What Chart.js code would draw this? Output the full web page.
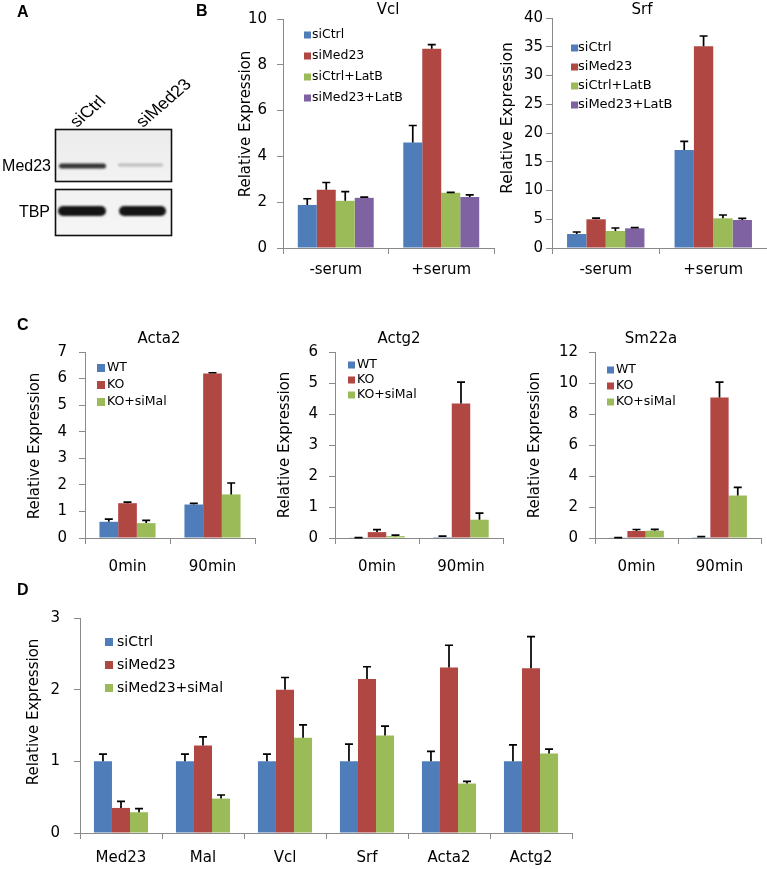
<!DOCTYPE html>
<html><head><meta charset="utf-8">
<script src="https://cdn.jsdelivr.net/npm/chart.js@4.4.1/dist/chart.umd.min.js"></script>
<style>
html,body{margin:0;padding:0;background:#fff;}
#wrap{position:relative;width:767px;height:869px;overflow:hidden;background:#fff;}
#wrap canvas{position:absolute;left:0;top:0;}
</style></head>
<body><div id="wrap">
<canvas id="blot" width="767" height="869"></canvas>
<canvas id="cVcl" width="767" height="869"></canvas>
<canvas id="cSrf" width="767" height="869"></canvas>
<canvas id="cActa2" width="767" height="869"></canvas>
<canvas id="cActg2" width="767" height="869"></canvas>
<canvas id="cSm22a" width="767" height="869"></canvas>
<canvas id="cD" width="767" height="869"></canvas>
</div>
<script>
// ---------------- DATA ----------------
// Panel B
const bCategories = ['-serum', '+serum'];
const bSeries = ['siCtrl', 'siMed23', 'siCtrl+LatB', 'siMed23+LatB'];
const vclSiCtrl = [1.88, 4.61];
const vclSiMed23 = [2.54, 8.70];
const vclSiCtrlLatB = [2.06, 2.41];
const vclSiMed23LatB = [2.19, 2.23];
const vclSiCtrlErr = [0.27, 0.74];
const vclSiMed23Err = [0.32, 0.18];
const vclSiCtrlLatBErr = [0.40, 0.02];
const vclSiMed23LatBErr = [0.03, 0.09];
const vclYTicks = [0, 2, 4, 6, 8, 10];

const srfSiCtrl = [2.43, 17.04];
const srfSiMed23 = [4.99, 35.07];
const srfSiCtrlLatB = [2.96, 5.16];
const srfSiMed23LatB = [3.42, 4.87];
const srfSiCtrlErr = [0.35, 1.50];
const srfSiMed23Err = [0.20, 1.80];
const srfSiCtrlLatBErr = [0.52, 0.58];
const srfSiMed23LatBErr = [0.12, 0.29];
const srfYTicks = [0, 5, 10, 15, 20, 25, 30, 35, 40];

// Panel C
const cCategories = ['0min', '90min'];
const cSeries = ['WT', 'KO', 'KO+siMal'];
const acta2WT = [0.61, 1.26];
const acta2KO = [1.31, 6.19];
const acta2KOsiMal = [0.56, 1.64];
const acta2WTErr = [0.10, 0.04];
const acta2KOErr = [0.04, 0.03];
const acta2KOsiMalErr = [0.10, 0.43];
const acta2YTicks = [0, 1, 2, 3, 4, 5, 6, 7];

const actg2WT = [0.01, 0.03];
const actg2KO = [0.19, 4.34];
const actg2KOsiMal = [0.06, 0.59];
const actg2WTErr = [0.005, 0.03];
const actg2KOErr = [0.08, 0.69];
const actg2KOsiMalErr = [0.03, 0.21];
const actg2YTicks = [0, 1, 2, 3, 4, 5, 6];

const sm22aWT = [0.02, 0.05];
const sm22aKO = [0.45, 9.06];
const sm22aKOsiMal = [0.47, 2.74];
const sm22aWTErr = [0.01, 0.04];
const sm22aKOErr = [0.10, 1.00];
const sm22aKOsiMalErr = [0.09, 0.52];
const sm22aYTicks = [0, 2, 4, 6, 8, 10, 12];

// Panel D
const dCategories = ['Med23', 'Mal', 'Vcl', 'Srf', 'Acta2', 'Actg2'];
const dSeries = ['siCtrl', 'siMed23', 'siMed23+siMal'];
const dSiCtrl = [1.00, 1.00, 1.00, 1.00, 1.00, 1.00];
const dSiMed23 = [0.35, 1.22, 2.00, 2.15, 2.31, 2.30];
const dSiMed23SiMal = [0.29, 0.48, 1.33, 1.36, 0.69, 1.11];
const dSiCtrlErr = [0.10, 0.10, 0.10, 0.24, 0.14, 0.23];
const dSiMed23Err = [0.09, 0.12, 0.17, 0.17, 0.31, 0.44];
const dSiMed23SiMalErr = [0.05, 0.05, 0.18, 0.13, 0.03, 0.06];
const dYTicks = [0, 1, 2, 3];

// Panel A text
const blotLanes = ['siCtrl', 'siMed23'];
const blotRows = ['Med23', 'TBP'];

// ---------------- STYLE ----------------
const BLUE = '#4F7DBA', RED = '#B04743', GREEN = '#9BBB59', PURPLE = '#7E62A1';
const AXIS = '#8a8a8a';
const FONT = "'DejaVu Sans', sans-serif";
Chart.defaults.font.family = FONT;
Chart.defaults.color = '#000';

const decor = {
  id: 'decor',
  afterDatasetsDraw(chart, args, o) {
    const ctx = chart.ctx, ys = chart.scales.y;
    chart.data.datasets.forEach((ds, i) => {
      if (!ds.errors) return;
      const meta = chart.getDatasetMeta(i);
      meta.data.forEach((bar, j) => {
        const v = ds.data[j], e = ds.errors[j];
        if (e == null) return;
        const x = bar.x, y0 = ys.getPixelForValue(v), y1 = ys.getPixelForValue(v + e);
        ctx.save();
        ctx.strokeStyle = '#000'; ctx.lineWidth = 1.7;
        ctx.beginPath();
        ctx.moveTo(x, y0); ctx.lineTo(x, y1);
        ctx.moveTo(x - 4, y1); ctx.lineTo(x + 4, y1);
        ctx.stroke();
        ctx.restore();
      });
    });
  },
  afterDraw(chart, args, o) {
    const ctx = chart.ctx;
    ctx.save();
    ctx.fillStyle = '#000';
    if (o.title) {
      ctx.font = o.title.size + 'px ' + FONT;
      ctx.textAlign = 'center'; ctx.textBaseline = 'middle';
      ctx.fillText(o.title.text, o.title.x, o.title.y);
    }
    if (o.yTitle) {
      ctx.save();
      ctx.translate(o.yTitle.x, o.yTitle.y);
      ctx.rotate(-Math.PI / 2);
      ctx.font = o.yTitle.size + 'px ' + FONT;
      ctx.textAlign = 'center'; ctx.textBaseline = 'middle';
      ctx.fillText(o.yTitle.text, 0, 0);
      ctx.restore();
    }
    if (o.legend) {
      const L = o.legend;
      ctx.font = L.size + 'px ' + FONT;
      ctx.textAlign = 'left'; ctx.textBaseline = 'middle';
      chart.data.datasets.forEach((ds, i) => {
        const y = L.y + i * L.dy;
        ctx.fillStyle = ds.backgroundColor;
        ctx.fillRect(L.x, y - L.box / 2, L.box, L.box);
        ctx.fillStyle = '#000';
        ctx.fillText(ds.label, L.tx, y);
      });
    }
    ctx.restore();
  }
};

function makeChart(id, c) {
  const W = 40, H = c.H || 45;
  const tickFont = {size: c.tickSize || 15, family: FONT};
  return new Chart(document.getElementById(id), {
    type: 'bar',
    data: {labels: c.labels, datasets: c.datasets},
    options: {
      responsive: false, animation: false, devicePixelRatio: 1,
      layout: {padding: {left: c.L - W, right: 767 - c.R, top: c.T, bottom: 869 - c.B - H}},
      datasets: {bar: {categoryPercentage: c.cat, barPercentage: 1, borderWidth: 0}},
      scales: {
        x: {
          grid: {display: true, drawOnChartArea: false, drawTicks: true, tickLength: 6, color: AXIS, offset: true},
          border: {display: true, color: AXIS, width: 1},
          ticks: {font: {size: c.xSize || 15, family: FONT}, color: '#000', padding: c.xPad, maxRotation: 0, autoSkip: false},
          afterFit(s) { s.height = H; }
        },
        y: {
          min: c.ticks[0], max: c.ticks[c.ticks.length - 1],
          afterBuildTicks(s) { s.ticks = c.ticks.map(v => ({value: v})); },
          grid: {display: true, drawOnChartArea: false, drawTicks: true, tickLength: 6, color: AXIS},
          border: {display: true, color: AXIS, width: 1},
          ticks: {font: tickFont, color: '#000', padding: c.yPad},
          afterFit(s) { s.width = W; }
        }
      },
      plugins: {
        legend: {display: false}, tooltip: {enabled: false}, title: {display: false},
        decor: c.decor
      }
    },
    plugins: [decor]
  });
}

function ds(label, data, errors, color) {
  return {label, data, errors, backgroundColor: color};
}

// ---- Panel B ----
makeChart('cVcl', {
  L: 283, R: 494, T: 18, B: 248, cat: 0.72, xPad: 7, yPad: 10, ticks: vclYTicks,
  labels: bCategories,
  datasets: [
    ds(bSeries[0], vclSiCtrl, vclSiCtrlErr, BLUE),
    ds(bSeries[1], vclSiMed23, vclSiMed23Err, RED),
    ds(bSeries[2], vclSiCtrlLatB, vclSiCtrlLatBErr, GREEN),
    ds(bSeries[3], vclSiMed23LatB, vclSiMed23LatBErr, PURPLE)
  ],
  decor: {
    title: {text: 'Vcl', x: 388, y: 10, size: 15},
    yTitle: {text: 'Relative Expression', x: 246, y: 124, size: 15},
    legend: {x: 304, tx: 312, y: 35, dy: 21, box: 7, size: 12.5}
  }
});
makeChart('cSrf', {
  L: 552, R: 767, T: 18, B: 248, cat: 0.72, xPad: 7, yPad: 3, ticks: srfYTicks,
  labels: bCategories,
  datasets: [
    ds(bSeries[0], srfSiCtrl, srfSiCtrlErr, BLUE),
    ds(bSeries[1], srfSiMed23, srfSiMed23Err, RED),
    ds(bSeries[2], srfSiCtrlLatB, srfSiCtrlLatBErr, GREEN),
    ds(bSeries[3], srfSiMed23LatB, srfSiMed23LatBErr, PURPLE)
  ],
  decor: {
    title: {text: 'Srf', x: 642, y: 10, size: 15},
    yTitle: {text: 'Relative Expression', x: 508, y: 118, size: 15.5},
    legend: {x: 571, tx: 578, y: 48, dy: 19, box: 7, size: 13}
  }
});

// ---- Panel C ----
makeChart('cActa2', {
  L: 85, R: 255, T: 352, B: 538, cat: 0.66, xPad: 14, yPad: 12, ticks: acta2YTicks,
  labels: cCategories,
  datasets: [
    ds(cSeries[0], acta2WT, acta2WTErr, BLUE),
    ds(cSeries[1], acta2KO, acta2KOErr, RED),
    ds(cSeries[2], acta2KOsiMal, acta2KOsiMalErr, GREEN)
  ],
  decor: {
    title: {text: 'Acta2', x: 159, y: 339, size: 15},
    yTitle: {text: 'Relative Expression', x: 35, y: 446, size: 15},
    legend: {x: 97, tx: 107, y: 368, dy: 17, box: 8, size: 12.5}
  }
});
makeChart('cActg2', {
  L: 335, R: 503, T: 352, B: 538, cat: 0.66, xPad: 14, yPad: 11, ticks: actg2YTicks,
  labels: cCategories,
  datasets: [
    ds(cSeries[0], actg2WT, actg2WTErr, BLUE),
    ds(cSeries[1], actg2KO, actg2KOErr, RED),
    ds(cSeries[2], actg2KOsiMal, actg2KOsiMalErr, GREEN)
  ],
  decor: {
    title: {text: 'Actg2', x: 399, y: 339, size: 15},
    yTitle: {text: 'Relative Expression', x: 285, y: 445, size: 15},
    legend: {x: 348, tx: 357, y: 365, dy: 15, box: 7, size: 12.5}
  }
});
makeChart('cSm22a', {
  L: 595, R: 761, T: 352, B: 538, cat: 0.66, xPad: 14, yPad: 11, ticks: sm22aYTicks,
  labels: cCategories,
  datasets: [
    ds(cSeries[0], sm22aWT, sm22aWTErr, BLUE),
    ds(cSeries[1], sm22aKO, sm22aKOErr, RED),
    ds(cSeries[2], sm22aKOsiMal, sm22aKOsiMalErr, GREEN)
  ],
  decor: {
    title: {text: 'Sm22a', x: 651, y: 339, size: 15},
    yTitle: {text: 'Relative Expression', x: 535, y: 445, size: 15},
    legend: {x: 607, tx: 616, y: 370, dy: 16, box: 7, size: 12.5}
  }
});

// ---- Panel D ----
makeChart('cD', {
  L: 80, R: 572, T: 618, B: 833, H: 36, cat: 0.66, xPad: 10, yPad: 14, ticks: dYTicks,
  labels: dCategories,
  datasets: [
    ds(dSeries[0], dSiCtrl, dSiCtrlErr, BLUE),
    ds(dSeries[1], dSiMed23, dSiMed23Err, RED),
    ds(dSeries[2], dSiMed23SiMal, dSiMed23SiMalErr, GREEN)
  ],
  decor: {
    yTitle: {text: 'Relative Expression', x: 34, y: 712, size: 15},
    legend: {x: 105, tx: 117, y: 642, dy: 23, box: 8, size: 14}
  }
});

// ---- Panel A (western blot) + panel letters ----
(function drawBlot() {
  const ctx = document.getElementById('blot').getContext('2d');
  ctx.fillStyle = '#000';
  ctx.font = "bold 16px 'Liberation Sans', Arial, sans-serif";
  ctx.textBaseline = 'alphabetic';
  ctx.fillText('A', 17, 17);
  ctx.fillText('B', 196, 16);
  ctx.fillText('C', 17, 330);
  ctx.fillText('D', 17, 595);

  function box(x, y, w, h, c1, c2) {
    const g = ctx.createLinearGradient(x, y, x, y + h);
    g.addColorStop(0, c1); g.addColorStop(1, c2);
    ctx.fillStyle = g; ctx.fillRect(x, y, w, h);
    ctx.strokeStyle = '#111'; ctx.lineWidth = 1.6; ctx.strokeRect(x, y, w, h);
  }
  box(55.5, 129.5, 116, 52, '#ececec', '#f2f2f2');
  box(55.5, 189.5, 116, 46, '#f1f1f1', '#f6f6f6');

  function band(x, y, w, h, color, blur) {
    ctx.save();
    ctx.filter = 'blur(' + blur + 'px)';
    ctx.fillStyle = color;
    const r = h / 2;
    ctx.beginPath();
    ctx.moveTo(x + r, y - r);
    ctx.lineTo(x + w - r, y - r);
    ctx.arc(x + w - r, y, r, -Math.PI / 2, Math.PI / 2);
    ctx.lineTo(x + r, y + r);
    ctx.arc(x + r, y, r, Math.PI / 2, Math.PI * 1.5);
    ctx.closePath();
    ctx.fill();
    ctx.restore();
  }
  band(59, 166, 47, 5, 'rgba(35,35,35,0.92)', 1.2);
  band(118, 165, 45, 3, 'rgba(120,120,120,0.45)', 1.2);
  band(58, 211, 48, 10, '#141414', 1.3);
  band(119, 211, 47, 10, '#141414', 1.3);

  ctx.fillStyle = '#000';
  ctx.font = "16px 'Liberation Sans', Arial, sans-serif";
  ctx.textAlign = 'right';
  ctx.fillText(blotRows[0], 51, 171);
  ctx.fillText(blotRows[1], 50, 217);
  ctx.textAlign = 'left';
  [[77, 128], [143, 128]].forEach((p, i) => {
    ctx.save();
    ctx.translate(p[0], p[1]);
    ctx.scale(1.15, 1);
    ctx.rotate(-Math.PI / 4);
    ctx.fillText(blotLanes[i], 0, 0);
    ctx.restore();
  });
})();
</script>
</body></html>
